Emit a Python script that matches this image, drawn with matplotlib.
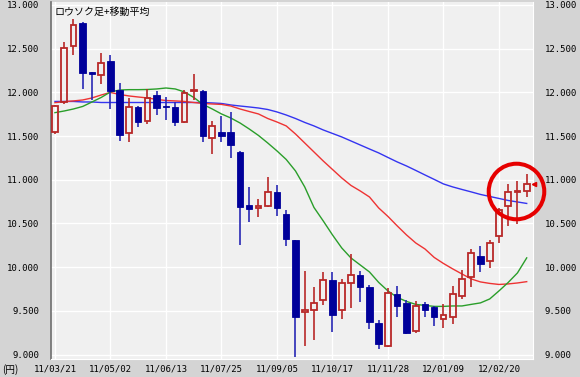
import matplotlib.pyplot as plt
import pandas as pd

# weekly candles, 2011-03-21 .. 2012-03-12
start_week = "2011-03-21"

opens = [11550, 11890, 12530, 12790, 12230, 12195, 12355, 12025, 11530, 11835,
         11675, 11975, 11840, 11835, 11660, 12020, 12020, 11475, 11545, 11545,
         11320, 10710, 10675, 10700, 10865, 10605, 10310, 9485, 9510, 9625,
         9855, 9505, 9815, 9910, 9775, 9365, 9100, 9695, 9595, 9270,
         9575, 9540, 9410, 9435, 9665, 9885, 10130, 10070, 10360, 10695,
         10865, 10875]
closes = [11840, 12510, 12770, 12225, 12215, 12340, 12010, 11515, 11835, 11660,
          11940, 11820, 11830, 11660, 11995, 12030, 11500, 11610, 11495, 11400,
          10685, 10665, 10700, 10855, 10680, 10320, 9425, 9510, 9595, 9855,
          9455, 9815, 9905, 9775, 9370, 9120, 9700, 9560, 9250, 9560,
          9510, 9425, 9450, 9695, 9865, 10160, 10035, 10275, 10655, 10865,
          10875, 10950]
highs = [11850, 12580, 12840, 12800, 12235, 12455, 12430, 12110, 11935, 11840,
         12040, 12015, 11950, 11890, 12025, 12215, 12030, 11675, 11730, 11770,
         11330, 10915, 10775, 11035, 10935, 10655, 10315, 9955, 9770, 9950,
         9940, 9865, 10150, 9955, 9795, 9400, 9760, 9785, 9625, 9615,
         9605, 9550, 9575, 9780, 9970, 10205, 10245, 10310, 10680, 10950,
         10990, 11065]
lows = [11525, 11870, 12430, 12040, 11910, 12090, 11815, 11440, 11435, 11605,
        11635, 11745, 11680, 11610, 11655, 11910, 11435, 11295, 11435, 11245,
        10255, 10520, 10570, 10685, 10580, 10245, 8970, 9100, 9170, 9570,
        9255, 9405, 9535, 9600, 9290, 9060, 9090, 9435, 9235, 9245,
        9425, 9330, 9300, 9345, 9635, 9770, 9940, 9990, 10275, 10470,
        10495, 10800]

# moving averages
ma_long = [11896, 11896, 11896, 11890, 11890, 11884, 11884, 11884, 11884, 11884,
           11884, 11884, 11884, 11884, 11884, 11884, 11884, 11879, 11873, 11856,
           11844, 11833, 11821, 11804, 11776, 11741, 11701, 11656, 11616, 11570,
           11530, 11490, 11444, 11398, 11352, 11307, 11255, 11204, 11158, 11107,
           11055, 11004, 10952, 10918, 10889, 10861, 10832, 10809, 10786, 10763,
           10746, 10729]
ma_mid = [11882, 11894, 11902, 11913, 11936, 11970, 11999, 11976, 11959, 11947,
          11936, 11919, 11907, 11902, 11896, 11884, 11873, 11867, 11862, 11844,
          11810, 11781, 11753, 11701, 11661, 11616, 11524, 11421, 11318, 11215,
          11118, 11021, 10935, 10872, 10803, 10677, 10580, 10472, 10369, 10277,
          10208, 10111, 10042, 9980, 9922, 9865, 9831, 9814, 9802, 9808,
          9819, 9834]
ma_short = [11768, 11787, 11810, 11839, 11890, 11942, 12005, 12027, 12031, 12031,
            12033, 12039, 12050, 12039, 12005, 11942, 11862, 11810, 11753, 11707,
            11650, 11581, 11507, 11421, 11330, 11232, 11101, 10918, 10683, 10529,
            10369, 10220, 10105, 10025, 9945, 9825, 9728, 9654, 9608, 9574,
            9562, 9551, 9551, 9556, 9556, 9574, 9591, 9636, 9728, 9825,
            9934, 10106]

y_ticks = [9000, 9500, 10000, 10500, 11000, 11500, 12000, 12500, 13000]

UP = "#b82828"
DOWN = "#00009a"
DOWN_WICK = "#2828b4"
BG = "#f0f0f0"
NUM_FONT = "DejaVu Sans Mono"
JP_FONT = ["Noto Sans CJK JP", "DejaVu Sans"]

weeks = pd.date_range(start_week, periods=len(opens), freq="7D")
x = list(range(len(opens)))

fig = plt.figure(figsize=(5.8, 3.77), dpi=100, facecolor="#d4d4d4")
ax = fig.add_axes([51 / 580, 18 / 377, 482 / 580, 357 / 377])
ax.set_facecolor(BG)
ax.set_xlim(-0.43, 51.68)
ax.set_ylim(8949, 13034)

# moving averages sit under the candles
ax.plot(x, ma_long, color="#3434f0", lw=1.0, zorder=2)
ax.plot(x, ma_mid, color="#ee3333", lw=1.0, zorder=2)
ax.plot(x, ma_short, color="#2a9e2a", lw=1.0, zorder=2)

for i in x:
    o, c, h, l = opens[i], closes[i], highs[i], lows[i]
    top, bot = max(o, c), min(o, c)
    if c >= o:
        ax.vlines(i, top, h, color=UP, lw=1.2, zorder=3)
        ax.vlines(i, l, bot, color=UP, lw=1.2, zorder=3)
        ax.bar(i, max(top - bot, 8), bottom=bot, width=0.62,
               facecolor="none", edgecolor=UP, lw=1.3, zorder=4)
    else:
        ax.vlines(i, l, h, color=DOWN_WICK, lw=1.2, zorder=3)
        ax.bar(i, max(top - bot, 8), bottom=bot, width=0.7,
               facecolor=DOWN, edgecolor=DOWN, lw=0.6, zorder=4)

# last price marker and highlight circle
ax.plot([51.75], [closes[-1]], marker="<", ms=3, color="#e00000",
        clip_on=False, zorder=6)
ax.plot([49.85], [10875], "o", ms=40, mfc="none", mec="#e60000", mew=2.9,
        clip_on=False, zorder=7)

ax.set_yticks(y_ticks)
ax.set_yticklabels([f"{v:,}".replace(",", ".") for v in y_ticks])
tick_idx = x[::6]
ax.set_xticks(tick_idx)
ax.set_xticklabels([weeks[i].strftime("%y/%m/%d") for i in tick_idx])
ax.grid(True, color="white", lw=1.0)
ax.set_axisbelow(True)
ax.tick_params(axis="y", length=0, pad=8.5, labelright=True,
               labelsize=6.5, colors="black", labelfontfamily=NUM_FONT)
ax.tick_params(axis="x", length=0, pad=4, labelsize=6.5, colors="black",
               labelfontfamily=NUM_FONT)

ax.spines["top"].set_visible(False)
ax.spines["left"].set_color("#6e6e6e")
ax.spines["left"].set_linewidth(1.2)
ax.spines["right"].set_color("white")
ax.spines["bottom"].set_color("white")

ax.text(0.007, 0.972, "ロウソク足+移動平均", transform=ax.transAxes,
        ha="left", va="center", fontsize=7.2, family=JP_FONT)
fig.text(2 / 580, 1 - 370 / 377, "(円)", ha="left", va="center",
         fontsize=7, family=JP_FONT)

fig.savefig("out.png", dpi=100, facecolor=fig.get_facecolor())
